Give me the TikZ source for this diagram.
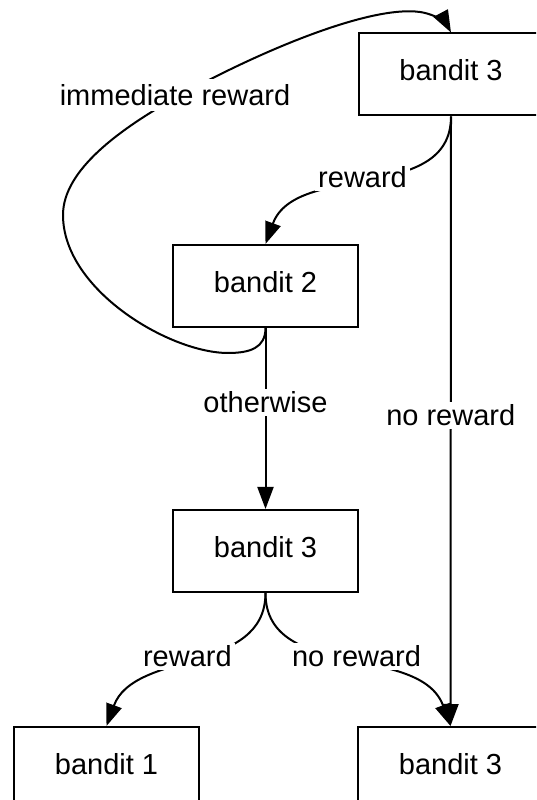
\documentclass[tikz,border=0pt]{standalone}
\usepackage{fontspec}
\setmainfont{Liberation Sans}
\usetikzlibrary{arrows.meta}
\begin{document}
\begin{tikzpicture}[x=1pt,y=1pt,
  font=\fontsize{29}{34}\selectfont,
  line width=2pt,
  box/.style={draw, minimum width=185pt, minimum height=82pt, inner sep=0pt, text depth=8pt},
  lbl/.style={fill=white, inner sep=3pt},
  arr/.style={-{Triangle[length=22pt,width=16pt]}}]
\path[use as bounding box, clip] (0,0) rectangle (536,800);
\fill[white] (0,0) rectangle (536,800);
% boxes
\node[box] (t3) at (451,725.5) {bandit 3};
\node[box] (b2) at (265.5,514) {bandit 2};
\node[box] (m3) at (265.5,249) {bandit 3};
\node[box] (b1) at (106.5,32) {bandit 1};
\node[box] (r3) at (450.5,32) {bandit 3};
% connectors
\draw[arr] (t3.south) to[out=-90,in=70] node[lbl, xshift=-7pt, yshift=5pt] {reward} (b2.north);
\draw[arr] (t3.south) -- node[lbl, pos=0.49] {no reward} (r3.north);
\draw[arr] (b2.south) -- node[lbl, pos=0.41] {otherwise} (m3.north);
\draw[arr] (m3.south) to[out=-90,in=70] node[lbl, xshift=-9pt, yshift=5pt] {reward} (b1.north);
\draw[arr] (m3.south) to[out=-90,in=110] node[lbl, xshift=10pt, yshift=5pt] {no reward} (r3.north);
\draw[arr] (b2.south) .. controls (265.5,452) and (250,447) .. (228,447)
  .. controls (170,447) and (63,510) .. (63,585)
  .. controls (63,630) and (120,671) .. (177,703) node[lbl, inner sep=5pt, xshift=-2pt, yshift=2pt] {immediate reward}
  .. controls (260,749) and (370,795) .. (420,788)
  .. controls (437,785.5) and (447,775) .. (t3.north);
\end{tikzpicture}
\end{document}
